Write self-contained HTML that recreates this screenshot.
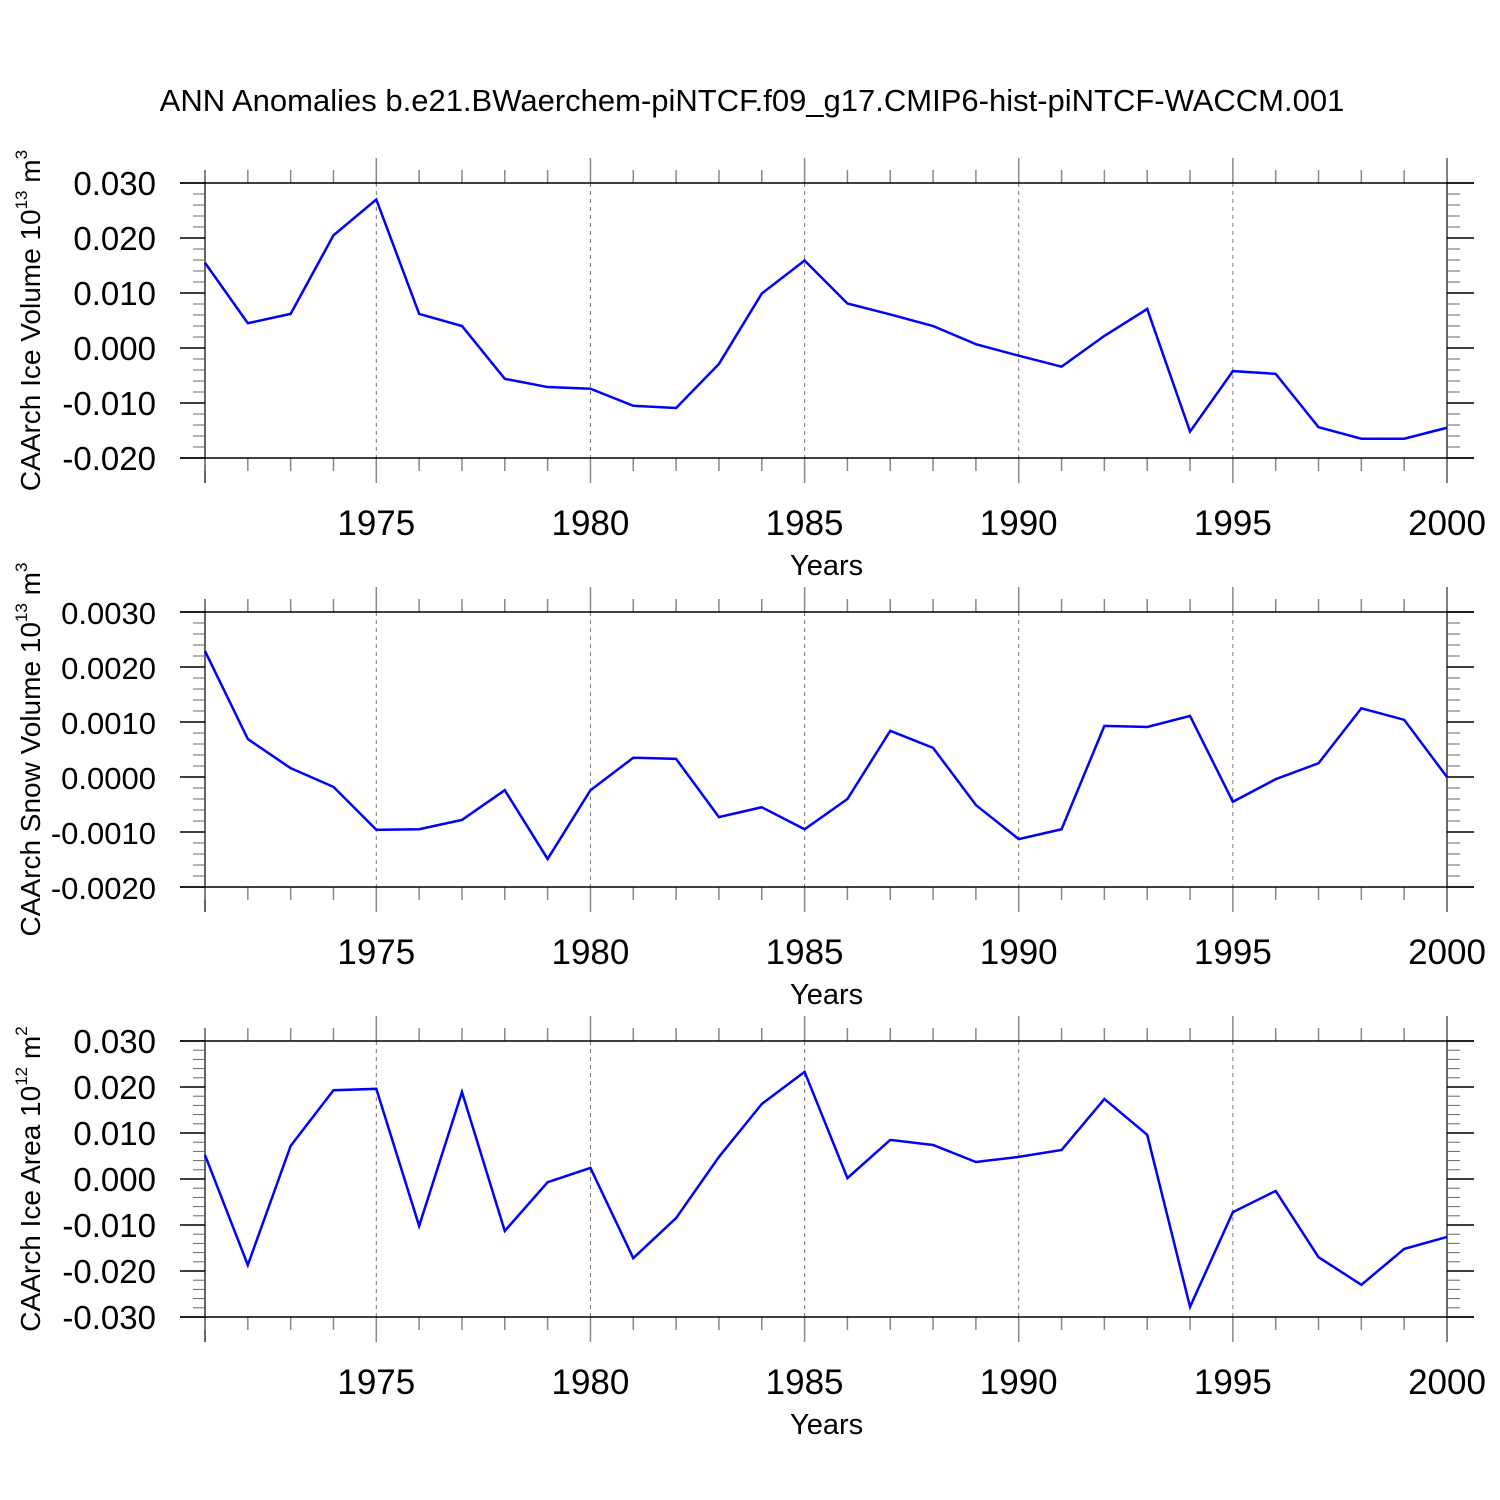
<!DOCTYPE html>
<html><head><meta charset="utf-8"><style>body{margin:0;background:#fff}svg{display:block}text{font-family:"Liberation Sans",Arial,sans-serif}</style></head>
<body>
<svg id="c" width="1500" height="1500">
<text x="752" y="111" font-size="31" text-anchor="middle">ANN Anomalies b.e21.BWaerchem-piNTCF.f09_g17.CMIP6-hist-piNTCF-WACCM.001</text>
</svg>
<script>
const years=[];for(let y=1971;y<=2000;y++)years.push(y);
const xTicks=[1975,1980,1985,1990,1995,2000];
const iceVol=[0.0155,0.0045,0.0062,0.0205,0.027,0.0062,0.004,-0.0056,-0.0071,-0.0074,-0.0105,-0.0109,-0.0029,0.0099,0.0159,0.0081,0.0061,0.004,0.0007,-0.0014,-0.0034,0.0022,0.0071,-0.0152,-0.0042,-0.0047,-0.0144,-0.0165,-0.0165,-0.0145];
const snowVol=[0.00229,0.00069,0.00016,-0.00018,-0.00096,-0.00095,-0.00078,-0.00024,-0.00149,-0.00024,0.00035,0.00033,-0.00073,-0.00055,-0.00095,-0.0004,0.00084,0.00053,-0.00051,-0.00113,-0.00095,0.00093,0.00091,0.00111,-0.00045,-0.00004,0.00025,0.00125,0.00104,0];
const iceArea=[0.0052,-0.0187,0.0072,0.0193,0.0196,-0.0102,0.0189,-0.0113,-0.0007,0.0024,-0.0172,-0.0085,0.0048,0.0163,0.0233,0.0002,0.0085,0.0074,0.0037,0.0048,0.0063,0.0174,0.0096,-0.0278,-0.0072,-0.0026,-0.017,-0.023,-0.0152,-0.0126];
const tick1=[0.03,0.02,0.01,0,-0.01,-0.02];
const tick2=[0.003,0.002,0.001,0,-0.001,-0.002];
const tick3=[0.03,0.02,0.01,0,-0.01,-0.02,-0.03];
const panels=[
 {data:iceVol,ticks:tick1,dec:3,fs:33,top:183,bot:458,lab:"CAArch Ice Volume 10",sup:"13",unit:" m",usup:"3",name:"ice-volume"},
 {data:snowVol,ticks:tick2,dec:4,fs:31,top:612,bot:887,lab:"CAArch Snow Volume 10",sup:"13",unit:" m",usup:"3",name:"snow-volume"},
 {data:iceArea,ticks:tick3,dec:3,fs:33,top:1041,bot:1317,lab:"CAArch Ice Area 10",sup:"12",unit:" m",usup:"2",name:"ice-area"}];
const svg=document.getElementById('c');const NS="http://www.w3.org/2000/svg";
function el(t,a,p){const e=document.createElementNS(NS,t);for(const k in a)e.setAttribute(k,a[k]);(p||svg).appendChild(e);return e;}
const xL=205,xR=1447;
const xs=y=>xL+(y-1971)*(xR-xL)/29;
panels.forEach(p=>{
 const g=el('g',{});
 
 
 const tmax=p.ticks[0],tmin=p.ticks[p.ticks.length-1];
 const ys=v=>p.top+(tmax-v)*(p.bot-p.top)/(tmax-tmin);
 const step=(tmax-tmin)/(p.ticks.length-1);
 xTicks.slice(0,5).forEach(y=>el('line',{x1:xs(y),x2:xs(y),y1:p.top,y2:p.bot,stroke:'#777','stroke-dasharray':'4,4','stroke-width':1},g));
 el('line',{x1:xL,x2:xL,y1:p.top-13,y2:p.bot+25,stroke:'#666','stroke-width':2},g);
 el('line',{x1:xR,x2:xR,y1:p.top-25,y2:p.bot+25,stroke:'#666','stroke-width':2},g);
 years.forEach(y=>{const maj=y%5==0;const L=maj?25:13;
  el('line',{x1:xs(y),x2:xs(y),y1:p.top-L,y2:p.top,stroke:'#888','stroke-width':1.5},g);
  el('line',{x1:xs(y),x2:xs(y),y1:p.bot,y2:p.bot+L,stroke:'#888','stroke-width':1.5},g);});
 for(let i=0;i<p.ticks.length-1;i++)for(let j=1;j<5;j++){const v=p.ticks[i]-j*step/5;
  el('line',{x1:xL-12,x2:xL,y1:ys(v),y2:ys(v),stroke:'#666','stroke-width':1},g);
  el('line',{x1:xR,x2:xR+13,y1:ys(v),y2:ys(v),stroke:'#666','stroke-width':1},g);}
 p.ticks.forEach(v=>{
  el('line',{x1:180,x2:1474,y1:ys(v),y2:ys(v),stroke:'#000','stroke-width':(v==tmax||v==tmin)?1.5:0,},g);
  el('line',{x1:180,x2:xL,y1:ys(v),y2:ys(v),stroke:'#000','stroke-width':1.5},g);
  el('line',{x1:xR,x2:1474,y1:ys(v),y2:ys(v),stroke:'#000','stroke-width':1.5},g);
  const t=el('text',{x:156,y:ys(v)+12,'font-size':p.fs,'text-anchor':'end'},g);t.textContent=v.toFixed(p.dec);});
 xTicks.forEach(y=>{const t=el('text',{x:xs(y),y:p.bot+77,'font-size':35,'text-anchor':'middle'},g);t.textContent=y;});
 const yt=el('text',{x:xs(1985)+22,y:p.bot+117,'font-size':29,'text-anchor':'middle'},g);yt.textContent='Years';
 
 
 const cy=(p.top+p.bot)/2;
 const lab=el('text',{transform:`translate(40,${cy}) rotate(-90)`,'font-size':28,'text-anchor':'middle'},g);
 
 
 lab.innerHTML=`${p.lab}<tspan dy="-13" font-size="17">${p.sup}</tspan><tspan dy="13">${p.unit}</tspan><tspan dy="-13" font-size="17">${p.usup}</tspan>`;
 const line=el('polyline',{points:p.data.map((v,i)=>xs(years[i])+','+ys(v)).join(' '),fill:'none',stroke:'#0000ff','stroke-width':2.5},g);
 
 
});
</script>
</body></html>
